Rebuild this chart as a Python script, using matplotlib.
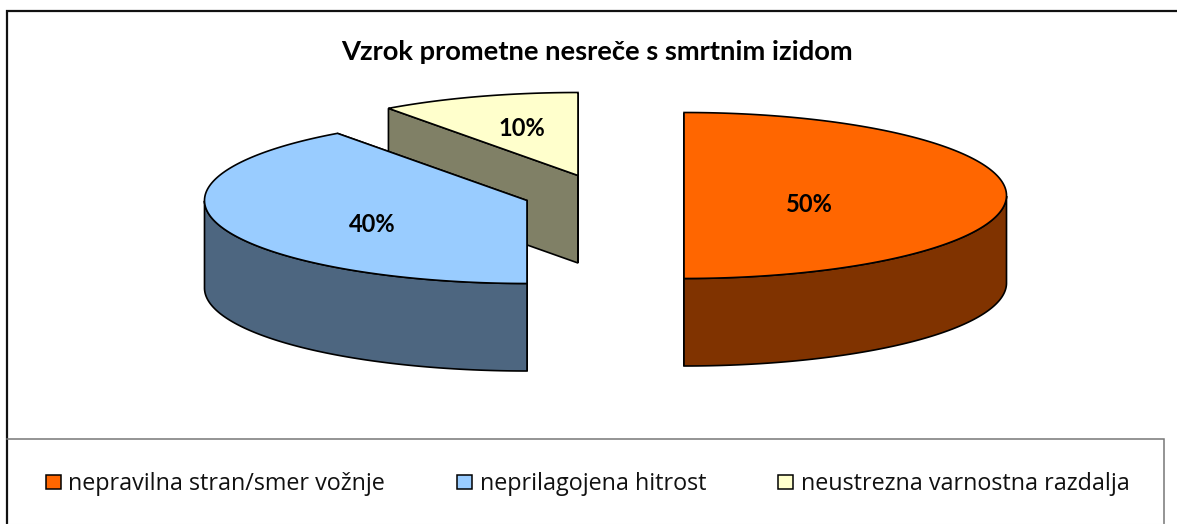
import numpy as np
import matplotlib
matplotlib.use("Agg")
import matplotlib.pyplot as plt
from matplotlib.patches import Polygon, Rectangle

title = "Vzrok prometne nesreče s smrtnim izidom"
categories = ["nepravilna stran/smer vožnje", "neprilagojena hitrost", "neustrezna varnostna razdalja"]
shares = [50, 40, 10]
top_colors = ["#FF6600", "#99CCFF", "#FFFFCC"]
side_colors = ["#803300", "#4D6680", "#808066"]

# layout in reference pixels
centers = [(684, 195.5), (527, 200.5), (578, 175.5)]
label_pos = [(809, 204), (372, 225), (522, 129)]
RX, RY, DEPTH = 322.5, 83, 87.5
LW = 1.2

plt.rcParams["font.family"] = ["Lato", "DejaVu Sans"]
fig = plt.figure(figsize=(11.77, 5.24), dpi=100)
ax = fig.add_axes([0, 0, 1, 1])
ax.set_xlim(0, 1177)
ax.set_ylim(524, 0)
ax.axis("off")

# frames
ax.plot([7, 7, 1177], [524, 10.5, 10.5], color="#111111", lw=1.6, solid_joinstyle="miter")
ax.plot([7, 1164, 1164], [439, 439, 524], color="#777777", lw=1.1, solid_joinstyle="miter")
ax.plot([7, 1164], [523.5, 523.5], color="#eeeeee", lw=0.8)

# slice angle ranges, clockwise from 12 o'clock
fractions = np.array(shares) / sum(shares)
edges = 90 - 360 * np.concatenate([[0], np.cumsum(fractions)])


def rim(cx, cy, deg):
    t = np.radians(deg)
    return np.column_stack([cx + RX * np.cos(t), cy - RY * np.sin(t)])


z = 2
for i in reversed(range(len(shares))):
    cx, cy = centers[i]
    a0, a1 = edges[i], edges[i + 1]
    deg = np.linspace(a0, a1, 240)
    down = np.array([0, DEPTH])
    apex = np.array([[cx, cy]])
    # radial cut faces
    for a in (a0, a1):
        p = rim(cx, cy, np.array([a]))
        face = np.vstack([apex, p, p + down, apex + down])
        ax.add_patch(Polygon(face, closed=True, fc=side_colors[i], ec="black", lw=LW, zorder=z, joinstyle="miter"))
    # outer wall (front half only)
    front = deg[np.sin(np.radians(deg)) <= 1e-9]
    if len(front) > 1:
        arc = rim(cx, cy, front)
        wall = np.vstack([arc, (arc + down)[::-1]])
        ax.add_patch(Polygon(wall, closed=True, fc=side_colors[i], ec="black", lw=LW, zorder=z + 0.1, joinstyle="miter"))
    # top
    topface = np.vstack([apex, rim(cx, cy, deg)])
    ax.add_patch(Polygon(topface, closed=True, fc=top_colors[i], ec="black", lw=LW, zorder=z + 0.2, joinstyle="miter"))
    z += 1

for (x, y), v in zip(label_pos, shares):
    ax.text(x, y, f"{v}%", ha="center", va="center", fontsize=17, fontweight="bold", color="black", zorder=20)

ax.text(596.5, 52, title, ha="center", va="center", fontsize=19.7, fontweight="bold", color="black")

# legend
FS = 16.8
px = FS * 100 / 72
handles = [Rectangle((0, 0), 1, 1, fc=c, ec="black", lw=1.1) for c in top_colors]
leg = ax.legend(handles, categories, ncol=3, loc="center left",
                bbox_to_anchor=(46, 484), bbox_transform=ax.transData,
                frameon=False, fontsize=FS, borderaxespad=0, borderpad=0,
                handlelength=14.5 / px, handleheight=0.58, handletextpad=8 / px,
                columnspacing=72 / px, prop={"family": "Open Sans", "size": FS})
for t in leg.get_texts():
    t.set_color("#111111")

fig.savefig("out.png", dpi=100, facecolor="white")
